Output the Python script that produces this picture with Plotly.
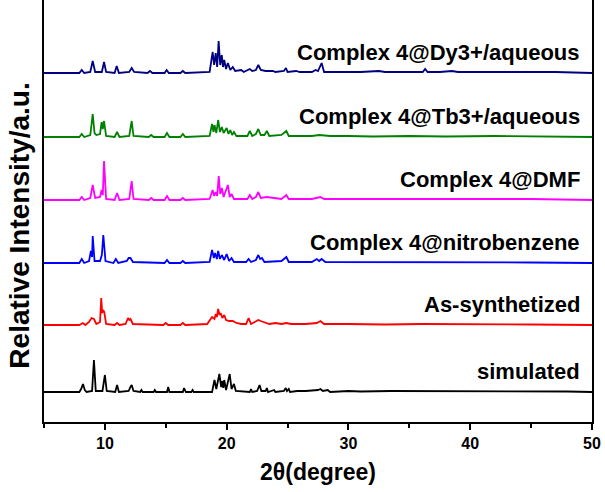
import plotly.graph_objects as go

# ---------------- data (2theta, relative peak height) ----------------
dy_x = [5, 7.9, 8.1, 8.3, 8.8, 9.0, 9.2, 9.75, 9.93, 10.1, 10.8, 10.97, 11.15, 12.0, 12.2, 12.4,
        13.5, 13.7, 13.9, 14.9, 15.07, 15.25, 16.2, 16.4, 16.6, 18.6, 18.85, 18.97, 19.1, 19.22,
        19.34, 19.47, 19.6, 19.7, 19.8, 19.95, 20.1, 20.3, 20.5, 20.7, 21.2, 21.4, 21.9, 22.1,
        22.4, 22.6, 22.8, 23.2, 23.8, 24.0, 24.7, 24.87, 25.0, 25.7, 26.0, 27.0, 27.3, 27.5,
        27.8, 28.0, 29.5, 31.0, 32.5, 33.0, 35.0, 36.1, 36.3, 36.5, 37.5, 38.5, 39.0, 41.5,
        44.0, 47.0, 50.0]
dy_y = [0, 0, 3, 0, 1, 12, 1, 1, 11, 1, 0, 7, 0, 1, 5, 1,
        0, 2, 0, 0, 3, 0, 0, 2, 0, 1, 21, 8, 20, 6,
        32, 8, 18, 6, 13, 4, 10, 3, 6, 2, 3, 1, 4, 2,
        3, 8, 3, 2, 2, 1, 2, 5, 1, 2, 1, 1, 3, 2,
        10, 1, 1, 1, 2, 1, 1, 1, 4, 1, 1, 2, 1, 1,
        0.5, 1, 0]

tb_x = [5, 7.9, 8.1, 8.3, 8.8, 9.0, 9.15, 9.3, 9.6, 9.73, 9.83, 9.93, 10.1, 10.8, 11.0, 11.2,
        12.0, 12.2, 12.35, 13.6, 13.8, 14.0, 14.9, 15.1, 15.3, 16.2, 16.4, 16.6, 18.6, 18.8,
        18.92, 19.0, 19.15, 19.3, 19.45, 19.6, 19.75, 20.0, 20.15, 20.3, 20.45, 20.6, 20.8,
        21.7, 21.9, 22.1, 22.4, 22.6, 22.8, 23.1, 23.3, 23.5, 24.5, 24.9, 25.1, 25.8, 27.0,
        27.6, 28.5, 30.0, 32.0, 35.0, 38.0, 42.0, 46.0, 50.0]
tb_y = [0, 0, 3, 0, 2, 23, 4, 2, 3, 15, 8, 16, 1, 0, 5, 0,
        1, 16, 1, 0, 2, 0, 0, 4, 0, 0, 3, 0, 1, 13,
        5, 12, 4, 17, 5, 10, 4, 9, 3, 7, 2, 5, 1,
        1, 6, 1, 3, 8, 2, 2, 6, 1, 2, 6, 1, 1, 1,
        2, 1, 1, 0.5, 1, 0.5, 1, 0.5, 0]

dmf_x = [5, 7.9, 8.1, 8.3, 8.8, 9.0, 9.2, 9.6, 9.73, 9.83, 9.93, 10.1, 10.8, 11.0, 11.2,
         12.0, 12.2, 12.35, 13.6, 13.8, 14.0, 14.9, 15.1, 15.3, 16.2, 16.4, 16.6, 18.6,
         18.85, 18.97, 19.1, 19.22, 19.35, 19.47, 19.6, 19.75, 20.1, 20.25, 20.4, 20.6,
         21.7, 21.9, 22.1, 22.4, 22.6, 22.8, 23.3, 24.5, 24.9, 25.1, 27.0, 27.7, 28.0,
         30.0, 33.0, 36.0, 40.0, 45.0, 50.0]
dmf_y = [0, 0, 3, 0, 2, 15, 2, 3, 10, 5, 39, 1, 0, 7, 0,
         1, 19, 1, 0, 2, 0, 0, 4, 0, 0, 2, 0, 1,
         10, 4, 8, 4, 24, 6, 12, 3, 15, 3, 6, 1,
         1, 5, 1, 3, 8, 2, 3, 1, 5, 1, 1, 3, 1,
         1, 0.5, 1, 0.5, 1, 0]

nb_x = [5, 7.9, 8.1, 8.3, 8.7, 8.85, 8.95, 9.0, 9.15, 9.6, 9.75, 9.87, 10.05, 10.7, 10.9,
        11.1, 11.8, 11.95, 12.1, 12.3, 14.9, 15.1, 15.3, 16.2, 16.4, 16.6, 18.6, 18.8,
        18.95, 19.05, 19.2, 19.3, 19.45, 19.6, 19.8, 20.0, 20.2, 20.4, 20.6, 21.6, 21.8,
        22.0, 22.4, 22.6, 22.75, 22.9, 23.1, 24.5, 24.9, 25.1, 27.0, 27.4, 27.6, 27.8,
        28.1, 30.0, 33.0, 36.0, 40.0, 45.0, 50.0]
nb_y = [0, 0, 4, 0, 2, 12, 6, 27, 2, 2, 8, 28, 2, 0, 4,
        0, 2, 5, 5, 1, 0, 3, 0, 0, 2, 0, 1, 13,
        5, 10, 4, 12, 4, 8, 3, 9, 2, 5, 1, 1, 4,
        1, 3, 8, 4, 5, 1, 2, 6, 1, 1, 4, 2, 4,
        1, 1, 0.5, 1, 0.5, 0.5, 0]

as_x = [5, 7.9, 8.2, 8.4, 8.7, 8.9, 9.1, 9.3, 9.6, 9.7, 9.78, 9.85, 9.95, 10.1, 10.8, 11.0,
        11.2, 11.7, 11.9, 12.0, 12.1, 12.3, 14.8, 15.0, 15.2, 16.2, 16.4, 16.6, 18.4, 18.8,
        19.0, 19.1, 19.2, 19.3, 19.42, 19.5, 19.65, 19.8, 19.95, 20.2, 20.5, 20.8, 21.2,
        21.6, 21.8, 22.0, 22.3, 22.6, 22.8, 23.1, 23.5, 24.0, 24.5, 24.9, 25.3, 26.5,
        27.4, 27.7, 28.0, 30.0, 33.0, 36.0, 40.0, 45.0, 50.0]
as_y = [0, 0, 2, 0, 3, 7, 6, 1, 3, 27, 12, 15, 13, 1, 0, 2,
        0, 1, 7, 5, 6, 1, 0, 2, 0, 0, 2, 0, 1, 8,
        6, 11, 8, 16, 10, 12, 7, 10, 5, 4, 4, 2, 1,
        1, 7, 1, 3, 5, 4, 3, 1, 2, 1, 2, 1, 1,
        2, 4, 1, 1, 0.5, 1, 0.5, 0.5, 0]

sim_x = [5, 7.9, 8.05, 8.2, 8.35, 8.5, 8.95, 9.1, 9.25, 9.8, 10.0, 10.15, 10.85, 11.0, 11.15,
         11.95, 12.1, 12.2, 12.35, 12.9, 13.0, 13.1, 14.0, 14.1, 14.2, 15.1, 15.2, 15.3,
         16.4, 16.5, 16.65, 17.1, 17.2, 17.3, 18.8, 19.0, 19.15, 19.4, 19.55, 19.65, 19.72,
         19.8, 19.95, 20.25, 20.4, 20.6, 20.75, 21.9, 22.0, 22.1, 22.5, 22.7, 22.85, 23.2,
         23.3, 23.4, 23.9, 24.0, 24.7, 24.85, 24.95, 25.1, 25.2, 25.8, 26.5, 27.5, 27.7,
         27.9, 28.3, 28.5, 30.0, 31.0, 33.5, 35.0, 36.5, 38.0, 39.5, 41.0, 42.5, 44.0,
         45.5, 47.0, 48.0, 50.0]
sim_y = [0, 0, 3, 8, 2, 0, 1, 32, 1, 1, 17, 1, 0, 7, 0,
         1, 5, 7, 1, 0, 2, 0, 0, 2, 0, 0, 5, 0,
         0, 4, 0, 0, 2, 0, 0, 12, 3, 18, 5, 11, 4,
         12, 2, 18, 3, 8, 1, 0, 3, 0, 1, 7, 1, 1,
         4, 0, 2, 0, 1, 4, 1, 3, 0, 1, 1, 2, 3,
         1, 2, 0, 1, 0.5, 1, 1, 1, 1, 1, 1, 1, 1,
         1, 1, 0.5, 0]

series_names = ["Complex 4@Dy3+/aqueous", "Complex 4@Tb3+/aqueous", "Complex 4@DMF",
                "Complex 4@nitrobenzene", "As-synthetized", "simulated"]
x_ticks = [10, 20, 30, 40, 50]

# ---------------- styling / positions ----------------
series_x = [dy_x, tb_x, dmf_x, nb_x, as_x, sim_x]
series_y = [dy_y, tb_y, dmf_y, nb_y, as_y, sim_y]
offsets = [349, 285, 222, 159, 97, 30]
colors = ["#000080", "#008000", "#FF00FF", "#0000FF", "#FF0000", "#000000"]
label_gap = 21

fig = go.Figure()
for xs, ys, off, col, name in zip(series_x, series_y, offsets, colors, series_names):
    fig.add_trace(go.Scatter(x=xs, y=[off + v for v in ys], mode="lines",
                             line=dict(color=col, width=1.8), name=name,
                             showlegend=False, hoverinfo="skip"))
    fig.add_annotation(x=0.982, xref="paper", y=off + label_gap, yref="y",
                       text=name, showarrow=False, xanchor="right", yanchor="middle",
                       font=dict(family="Liberation Sans, Arial", size=22, color="black",
                                 weight="bold"))

fig.add_annotation(x=0.5, xref="paper", y=-0.118, yref="paper", text="2θ(degree)",
                   showarrow=False, xanchor="center", yanchor="middle",
                   font=dict(family="Liberation Sans, Arial", size=23, color="black",
                             weight="bold"))
fig.add_annotation(x=-0.044, xref="paper", y=0.465, yref="paper",
                   text="Relative Intensity/a.u.", textangle=-90,
                   showarrow=False, xanchor="center", yanchor="middle",
                   font=dict(family="Liberation Sans, Arial", size=28, color="black",
                             weight="bold"))

fig.update_layout(
    width=605, height=492,
    margin=dict(l=44, r=13, t=0, b=70),
    paper_bgcolor="white", plot_bgcolor="white",
    xaxis=dict(range=[5, 50], tickvals=x_ticks, ticks="outside", ticklen=6, tickwidth=2,
               tickcolor="black", showline=True, linewidth=2, linecolor="black",
               showgrid=False, zeroline=False,
               minor=dict(tick0=5, dtick=10, ticks="outside", ticklen=4, tickwidth=2,
                          tickcolor="black", showgrid=False),
               tickfont=dict(family="Liberation Sans, Arial", size=16, color="black",
                             weight="bold")),
    yaxis=dict(range=[0, 422], showticklabels=False, ticks="", showline=True, mirror=True,
               linewidth=2, linecolor="black", showgrid=False, zeroline=False),
)

fig.write_html("out.html")
